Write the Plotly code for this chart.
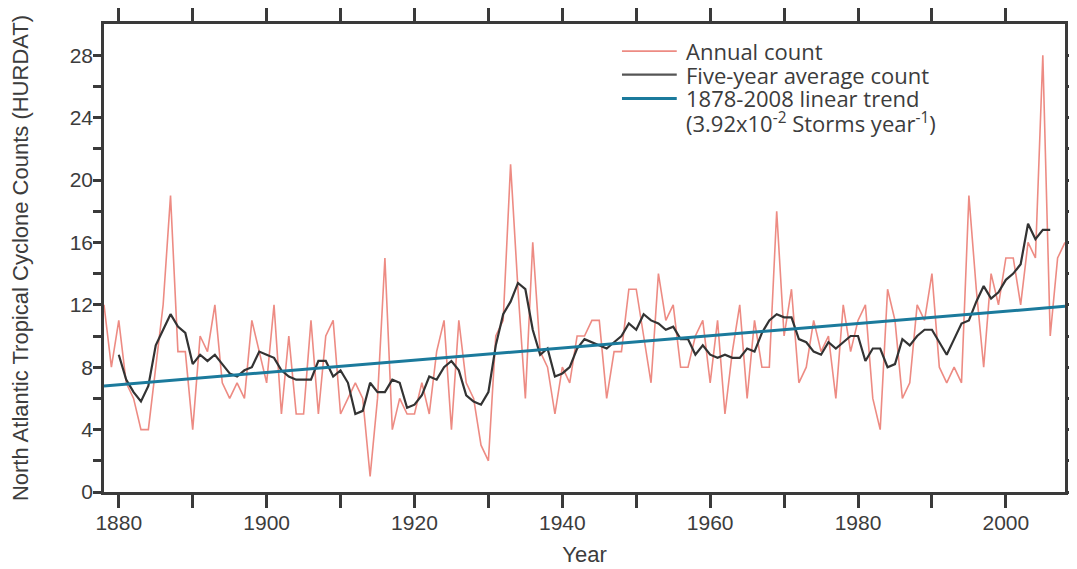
import plotly.graph_objects as go

years = list(range(1878, 2009))
annual = [12, 8, 11, 7, 6, 4, 4, 8, 12, 19,
          9, 9, 4, 10, 9, 12, 7, 6, 7, 6,
          11, 9, 7, 12, 5, 10, 5, 5, 11, 5,
          10, 11, 5, 6, 7, 6, 1, 6, 15, 4,
          6, 5, 5, 7, 5, 9, 11, 4, 11, 7,
          6, 3, 2, 10, 11, 21, 13, 6, 16, 9,
          8, 5, 8, 7, 10, 10, 11, 11, 6, 9,
          9, 13, 13, 10, 7, 14, 11, 12, 8, 8,
          10, 11, 7, 11, 5, 9, 12, 6, 11, 8,
          8, 18, 10, 13, 7, 8, 11, 9, 10, 6,
          12, 9, 11, 12, 6, 4, 13, 11, 6, 7,
          12, 11, 14, 8, 7, 8, 7, 19, 13, 8,
          14, 12, 15, 15, 12, 16, 15, 28, 10, 15,
          16]

avg_years = list(range(1880, 2007))
five_year = [8.8, 7.2, 6.4, 5.8, 6.8, 9.4, 10.4, 11.4, 10.6, 10.2,
             8.2, 8.8, 8.4, 8.8, 8.2, 7.6, 7.4, 7.8, 8.0, 9.0,
             8.8, 8.6, 7.8, 7.4, 7.2, 7.2, 7.2, 8.4, 8.4, 7.4,
             7.8, 7.0, 5.0, 5.2, 7.0, 6.4, 6.4, 7.2, 7.0, 5.4,
             5.6, 6.2, 7.4, 7.2, 8.0, 8.4, 7.8, 6.2, 5.8, 5.6,
             6.4, 9.4, 11.4, 12.2, 13.4, 13.0, 10.4, 8.8, 9.2, 7.4,
             7.6, 8.0, 9.2, 9.8, 9.6, 9.4, 9.2, 9.6, 10.0, 10.8,
             10.4, 11.4, 11.0, 10.8, 10.4, 10.6, 9.8, 9.8, 8.8, 9.4,
             8.8, 8.6, 8.8, 8.6, 8.6, 9.2, 9.0, 10.2, 11.0, 11.4,
             11.2, 11.2, 9.8, 9.6, 9.0, 8.8, 9.6, 9.2, 9.6, 10.0,
             10.0, 8.4, 9.2, 9.2, 8.0, 8.2, 9.8, 9.4, 10.0, 10.4,
             10.4, 9.6, 8.8, 9.8, 10.8, 11.0, 12.2, 13.2, 12.4, 12.8,
             13.6, 14.0, 14.6, 17.2, 16.2, 16.8, 16.8]

trend_years = [1878, 2008]
trend_vals = [6.8, 11.9]

legend_labels = ["Annual count", "Five-year average count",
                 "1878-2008 linear trend",
                 "(3.92x10<sup>-2</sup> Storms year<sup>-1</sup>)"]

x_tickvals = list(range(1880, 2001, 10))
x_ticktext = [str(v) if v % 20 == 0 else "" for v in x_tickvals]
y_tickvals = list(range(0, 29, 2))
y_ticktext = [str(v) if v % 4 == 0 else "" for v in y_tickvals]

axis_color = "#3a3a3a"
text_color = "#3c3c3c"
red = "rgba(232,110,100,0.8)"
black = "#333333"
teal = "#1b7a9c"
narrow = "Liberation Sans Narrow, Liberation Sans, Arial, sans-serif"

fig = go.Figure()
fig.add_trace(go.Scatter(x=years, y=annual, mode="lines", name=legend_labels[0],
                         line=dict(color=red, width=1.6), showlegend=False))
fig.add_trace(go.Scatter(x=avg_years, y=five_year, mode="lines", name=legend_labels[1],
                         line=dict(color=black, width=2.2), showlegend=False))
fig.add_trace(go.Scatter(x=trend_years, y=trend_vals, mode="lines", name=legend_labels[2],
                         line=dict(color=teal, width=3), showlegend=False))

# custom legend (line samples + labels)
leg_rows = [0.942, 0.892, 0.841, 0.790]
leg_colors = [red, "#555555", teal]
leg_widths = [1.6, 2.2, 3]
shapes = []
for i in range(3):
    shapes.append(dict(type="line", xref="paper", yref="paper",
                       x0=0.539, x1=0.596, y0=leg_rows[i], y1=leg_rows[i],
                       line=dict(color=leg_colors[i], width=leg_widths[i])))
annotations = []
for i, lab in enumerate(legend_labels):
    annotations.append(dict(xref="paper", yref="paper", x=0.6035, y=leg_rows[i],
                            xanchor="left", yanchor="middle", text=lab, showarrow=False,
                            font=dict(family="Open Sans, sans-serif", size=22, color=text_color)))

fig.update_layout(
    width=1069, height=561,
    margin=dict(l=96, r=12, t=16, b=77),
    paper_bgcolor="white", plot_bgcolor="white",
    font=dict(family=narrow, color=text_color, size=20),
    showlegend=False,
    shapes=shapes, annotations=annotations,
    xaxis=dict(
        range=[1878, 2008], tickmode="array", tickvals=x_tickvals, ticktext=x_ticktext,
        ticks="outside", ticklen=13, tickwidth=2.5, tickcolor=axis_color,
        showline=True, linewidth=2.5, linecolor=axis_color, mirror="allticks",
        showgrid=False, zeroline=False, automargin=False, ticklabelstandoff=-3,
        tickfont=dict(family=narrow, size=21, color=text_color),
        title=dict(text="Year", font=dict(family=narrow, size=22, color=text_color), standoff=14)),
    yaxis=dict(
        range=[0, 30], tickmode="array", tickvals=y_tickvals, ticktext=y_ticktext,
        ticks="outside", ticklen=8, tickwidth=2.5, tickcolor=axis_color,
        showline=True, linewidth=2.5, linecolor=axis_color, mirror="allticks",
        showgrid=False, zeroline=False, automargin=False, ticklabelstandoff=-4,
        tickfont=dict(family=narrow, size=21, color=text_color),
        title=dict(text="North Atlantic Tropical Cyclone Counts (HURDAT)",
                   font=dict(family=narrow, size=22, color=text_color), standoff=38)),
)

fig.write_html("out.html")
